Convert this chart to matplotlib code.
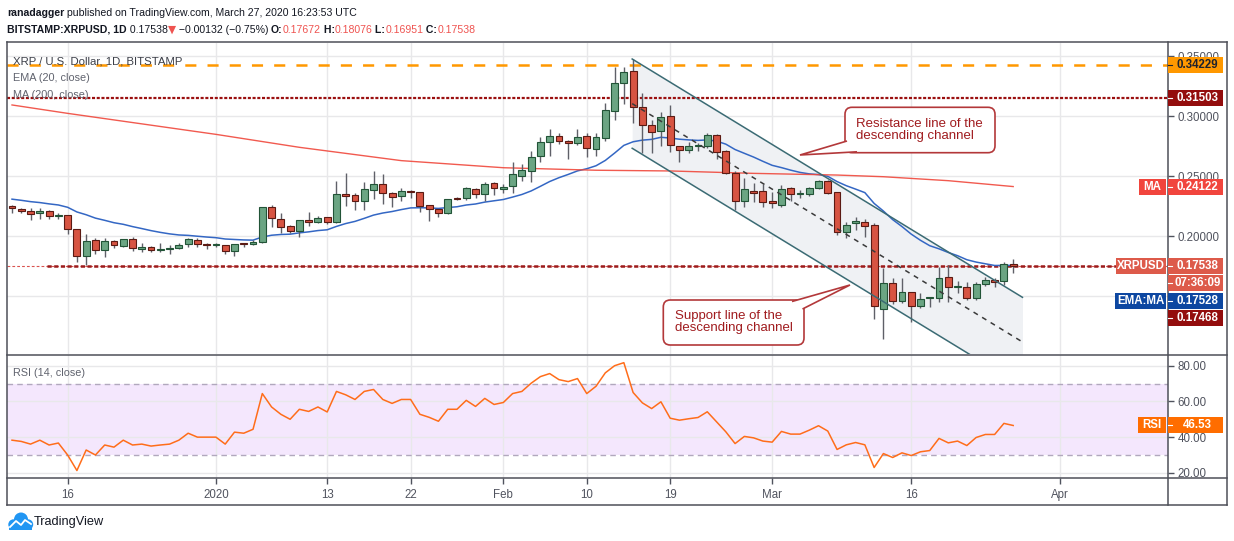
import numpy as np
import pandas as pd
import matplotlib
matplotlib.use("Agg")
import matplotlib.pyplot as plt
from matplotlib.patches import Rectangle, FancyBboxPatch, PathPatch, Circle
from matplotlib.path import Path
from matplotlib.lines import Line2D
from matplotlib.transforms import IdentityTransform

plt.rcParams['font.family'] = ['Liberation Sans', 'DejaVu Sans']
plt.rcParams['lines.scale_dashes'] = False

# ---- data (XRP/USD daily, Bitstamp) ----
dates = pd.date_range('2019-12-10', '2020-03-27', freq='D')

opens = [0.2247, 0.2222, 0.2206, 0.2189, 0.2206, 0.2164, 0.2172, 0.2056, 0.1831, 0.1964,
         0.1881, 0.1956, 0.1914, 0.1972, 0.1894, 0.1906, 0.1881, 0.1889, 0.1897, 0.1931,
         0.1964, 0.1933, 0.1922, 0.1922, 0.1872, 0.1939, 0.1931, 0.1947, 0.2239, 0.2139,
         0.2081, 0.2039, 0.2131, 0.2114, 0.2156, 0.2114, 0.2347, 0.2339, 0.2292, 0.2381,
         0.2431, 0.2356, 0.2331, 0.2375, 0.2364, 0.2256, 0.2222, 0.2189, 0.2317, 0.2314,
         0.2389, 0.2347, 0.2442, 0.2389, 0.2417, 0.2503, 0.2544, 0.2664, 0.2781, 0.2833,
         0.2789, 0.2772, 0.2833, 0.2728, 0.2817, 0.3044, 0.3278, 0.3372, 0.3078, 0.2922,
         0.2872, 0.3000, 0.2747, 0.2714, 0.2747, 0.2747, 0.2839, 0.2706, 0.2522, 0.2294,
         0.2378, 0.2372, 0.2289, 0.2261, 0.2400, 0.2347, 0.2347, 0.2400, 0.2456, 0.2364,
         0.2036, 0.2106, 0.2114, 0.2089, 0.1389, 0.1606, 0.1456, 0.1531, 0.1417, 0.1483,
         0.1483, 0.1656, 0.1572, 0.1578, 0.1483, 0.1597, 0.1633, 0.1622, 0.17672]
highs = [0.2258, 0.2233, 0.2231, 0.2231, 0.2217, 0.2194, 0.2175, 0.2056, 0.2017, 0.1981,
         0.1981, 0.1967, 0.1978, 0.1989, 0.1939, 0.1917, 0.1939, 0.1922, 0.1944, 0.1986,
         0.1981, 0.1944, 0.1944, 0.1928, 0.1933, 0.1944, 0.1967, 0.2244, 0.2258, 0.2194,
         0.2092, 0.2133, 0.2197, 0.2169, 0.2161, 0.2458, 0.2522, 0.2356, 0.2453, 0.2542,
         0.2517, 0.2364, 0.2397, 0.2381, 0.2369, 0.2256, 0.2228, 0.2306, 0.2322, 0.2411,
         0.2397, 0.2453, 0.2447, 0.2433, 0.2614, 0.2600, 0.2711, 0.2828, 0.2890, 0.2856,
         0.2800, 0.2890, 0.2856, 0.2861, 0.3106, 0.3406, 0.3411, 0.3472, 0.3189, 0.2967,
         0.3036, 0.3092, 0.2747, 0.2786, 0.2772, 0.2861, 0.2847, 0.2717, 0.2544, 0.2486,
         0.2439, 0.2433, 0.2369, 0.2425, 0.2406, 0.2383, 0.2411, 0.2464, 0.2467, 0.2369,
         0.2119, 0.2161, 0.2139, 0.2106, 0.1731, 0.1647, 0.1647, 0.1531, 0.1528, 0.1494,
         0.1739, 0.1758, 0.1622, 0.1619, 0.1619, 0.1656, 0.1647, 0.1786, 0.18076]
lows = [0.2189, 0.2194, 0.2133, 0.2142, 0.2144, 0.2144, 0.2017, 0.1786, 0.1758, 0.1847,
        0.1828, 0.1897, 0.1906, 0.1878, 0.1869, 0.1864, 0.1869, 0.1847, 0.1889, 0.1906,
        0.1911, 0.1894, 0.1911, 0.1847, 0.1836, 0.1906, 0.1922, 0.1939, 0.2072, 0.2028,
        0.2028, 0.1994, 0.2083, 0.2106, 0.2097, 0.2106, 0.2250, 0.2217, 0.2217, 0.2308,
        0.2267, 0.2239, 0.2294, 0.2319, 0.2203, 0.2128, 0.2161, 0.2183, 0.2300, 0.2300,
        0.2319, 0.2294, 0.2342, 0.2356, 0.2356, 0.2461, 0.2453, 0.2617, 0.2669, 0.2767,
        0.2639, 0.2758, 0.2661, 0.2667, 0.2789, 0.2967, 0.3097, 0.2939, 0.2689, 0.2689,
        0.2753, 0.2697, 0.2614, 0.2689, 0.2708, 0.2731, 0.2639, 0.2517, 0.2217, 0.2244,
        0.2286, 0.2244, 0.2231, 0.2244, 0.2294, 0.2314, 0.2336, 0.2394, 0.2350, 0.2008,
        0.1981, 0.2050, 0.1994, 0.1306, 0.1139, 0.1433, 0.1439, 0.1281, 0.1397, 0.1411,
        0.1453, 0.1453, 0.1522, 0.1467, 0.1467, 0.1583, 0.1578, 0.1592, 0.16951]
closes = [0.2231, 0.2206, 0.2181, 0.2206, 0.2164, 0.2172, 0.2056, 0.1831, 0.1956, 0.1881,
          0.1956, 0.1922, 0.1972, 0.1897, 0.1906, 0.1881, 0.1892, 0.1900, 0.1922, 0.1972,
          0.1931, 0.1928, 0.1933, 0.1872, 0.1933, 0.1931, 0.1950, 0.2239, 0.2147, 0.2072,
          0.2039, 0.2131, 0.2114, 0.2147, 0.2114, 0.2347, 0.2331, 0.2292, 0.2389, 0.2431,
          0.2356, 0.2322, 0.2375, 0.2367, 0.2247, 0.2222, 0.2189, 0.2306, 0.2306, 0.2397,
          0.2347, 0.2433, 0.2397, 0.2406, 0.2517, 0.2550, 0.2656, 0.2781, 0.2833, 0.2789,
          0.2772, 0.2822, 0.2731, 0.2822, 0.3050, 0.3272, 0.3367, 0.3072, 0.2928, 0.2864,
          0.2989, 0.2756, 0.2714, 0.2747, 0.2756, 0.2839, 0.2700, 0.2522, 0.2294, 0.2389,
          0.2361, 0.2286, 0.2272, 0.2389, 0.2347, 0.2353, 0.2400, 0.2456, 0.2361, 0.2036,
          0.2092, 0.2122, 0.2083, 0.1417, 0.1606, 0.1456, 0.1531, 0.1417, 0.1472, 0.1492,
          0.1647, 0.1572, 0.1583, 0.1483, 0.1597, 0.1633, 0.1619, 0.1764, 0.17538]

rsi = [38.3, 37.6, 36.1, 38.3, 35.6, 36.7, 30.0, 21.3, 32.8, 30.0,
       35.6, 34.4, 38.3, 35.6, 36.1, 35.0, 35.6, 36.1, 38.3, 42.2,
       40.0, 40.0, 40.0, 36.1, 42.8, 42.2, 44.4, 64.4, 56.9, 52.8,
       50.0, 55.6, 54.4, 56.9, 54.1, 65.6, 63.7, 61.1, 65.6, 66.7,
       61.1, 58.9, 61.1, 61.1, 52.8, 51.1, 48.9, 55.6, 55.6, 60.6,
       57.2, 61.7, 58.3, 59.4, 64.4, 65.6, 70.2, 73.9, 75.6, 72.2,
       71.1, 72.8, 64.4, 68.5, 76.0, 80.0, 81.7, 65.0, 59.2, 56.0,
       59.8, 50.6, 49.5, 50.3, 51.0, 54.2, 48.6, 43.0, 36.4, 40.4,
       39.6, 37.8, 37.2, 43.2, 41.7, 41.7, 43.9, 46.4, 43.4, 33.1,
       35.7, 37.0, 35.7, 23.0, 30.8, 28.6, 31.2, 29.7, 31.8, 32.5,
       39.3, 36.8, 37.8, 35.3, 39.8, 41.5, 41.5, 47.7, 46.53]

ema_seed = 0.2315          # EMA(20) value just before the first candle
ma200_day = [0, 6, 22, 31, 42, 53, 63, 71, 80, 89, 94, 101, 108]
ma200_val = [0.3092, 0.3022, 0.2847, 0.2739, 0.2628, 0.2569, 0.2548, 0.2542,
             0.2522, 0.2508, 0.2494, 0.2461, 0.2412]

tick_dates = ['2019-12-16', '2020-01-01', '2020-01-13', '2020-01-22', '2020-02-01',
              '2020-02-10', '2020-02-19', '2020-03-01', '2020-03-16', '2020-04-01']
tick_labels = ['16', '2020', '13', '22', 'Feb', '10', '19', 'Mar', '16', 'Apr']

level_top = 0.34229
level_mid = 0.31503
level_support = 0.17468
support_start_day = 3.74
last_price = 0.17538
ema_last = 0.17528
ma_last = 0.24122
rsi_last = 46.53

chan_day = [66.9, 109.0]
chan_upper = [0.3475, 0.1489]
chan_lower = [0.2731, 0.0745]

# ---- figure layout (pixel based) ----
W, H = 1234, 541
fig = plt.figure(figsize=(W / 100, H / 100), dpi=100)
ID = IdentityTransform()


def rect(x0, y0, x1, y1):
    return [x0 / W, 1 - y1 / H, (x1 - x0) / W, (y1 - y0) / H]


ax = fig.add_axes(rect(7, 42.5, 1168, 354))
rax = fig.add_axes(rect(7, 355, 1168, 477.5))

x = np.arange(len(closes))
o = np.array(opens)
c = np.array(closes)
hi = np.array(highs)
lo = np.array(lows)
tick_pos = [(pd.Timestamp(d) - dates[0]).days for d in tick_dates]

grid_c = '#e8e8ea'
axis_c = '#50535e'
for a in (ax, rax):
    a.set_xlim(-0.54, 124.7)
    a.set_xticks(tick_pos)
    for s in a.spines.values():
        s.set_visible(False)
    a.yaxis.tick_right()
    a.tick_params(axis='y', length=4, width=1, color=axis_c, labelcolor=axis_c,
                  labelsize=8.3, pad=3)
    a.grid(True, color=grid_c, lw=1, zorder=0)
    a.set_axisbelow(True)

ax.tick_params(axis='x', length=0, labelbottom=False)
rax.set_xticklabels(tick_labels)
rax.tick_params(axis='x', length=4, width=1, color=axis_c, labelcolor=axis_c,
                labelsize=8.3, pad=4)

# ---- price pane ----
ax.set_ylim(0.10167, 0.36125)
pt = [0.15, 0.20, 0.25, 0.30, 0.35]
ax.set_yticks(pt)
# the 0.15000 label sits fully under the EMA:MA tag in the original, so it stays blank
ax.set_yticklabels(['' if v < 0.16 else '%.5f' % v for v in pt])

# descending channel
cd = np.array(chan_day)
cu = np.array(chan_upper)
cl = np.array(chan_lower)
ax.fill_between(cd, cl, cu, color='#eff1f4', zorder=1, lw=0)
ax.plot(cd, cu, color='#3b6b74', lw=1.1, zorder=6)
ax.plot(cd, cl, color='#3b6b74', lw=1.1, zorder=6)
ax.plot(cd, (cu + cl) / 2, color='#3a3a3a', lw=1.1, ls=(0, (3.6, 3.6)), zorder=6)

# horizontal levels
ax.axhline(level_top, color='#ff9800', lw=1.8, ls=(0, (8, 8)), zorder=2)
ax.axhline(level_mid, color='#9b1010', lw=1.6, ls=(0, (2.2, 1.2)), zorder=2)
ax.axhline(last_price, color='#d9534f', lw=0.8, ls=(0, (2, 1.5)), zorder=2)
ax.hlines(level_support, support_start_day, 124.7, color='#9b1b1b', lw=1.8,
          ls=(0, (3, 1.8)), zorder=2)

# moving averages
ema = pd.Series([ema_seed] + closes).ewm(span=20, adjust=False).mean().iloc[1:].values
ax.plot(x, ema, color='#3467c4', lw=1.1, zorder=3)
ax.plot(ma200_day, ma200_val, color='#f0483c', lw=1.0, alpha=0.9, zorder=3)

# candles
up = c >= o
body_lo = np.minimum(o, c)
body_h = np.maximum(np.abs(c - o), 0.0009)
ax.vlines(x, lo, hi, color='#5f6068', lw=1.0, zorder=4)
ax.bar(x, body_h, bottom=body_lo, width=0.74,
       color=np.where(up, '#6ba583', '#d75442'),
       edgecolor=np.where(up, '#225437', '#5b1a13'), linewidth=0.8, zorder=5)

# ---- RSI pane ----
rax.set_ylim(17.4, 86.0)
rt = [20, 40, 60, 80]
rax.set_yticks(rt)
rax.set_yticklabels(['%.2f' % v for v in rt])
rax.axhspan(30, 70, color='#f4e7fd', zorder=0.5, lw=0)
rax.axhline(70, color='#b1a8bd', lw=1, ls=(0, (4, 3)), zorder=1)
rax.axhline(30, color='#b1a8bd', lw=1, ls=(0, (4, 3)), zorder=1)
rax.plot(x, rsi, color='#ff6d1a', lw=1.1, zorder=3)

# ---- pane texts ----
ax.text(6 / 1161, 1 - (61.5 - 42.5) / 311.5, 'XRP / U.S. Dollar, 1D, BITSTAMP',
        transform=ax.transAxes, fontsize=8.2, color='#3c3f48', va='center', zorder=9)
ax.text(6 / 1161, 1 - (78 - 42.5) / 311.5, 'EMA (20, close)',
        transform=ax.transAxes, fontsize=7.8, color='#60636e', va='center', zorder=9)
ax.text(6 / 1161, 1 - (95 - 42.5) / 311.5, 'MA (200, close)',
        transform=ax.transAxes, fontsize=7.8, color='#60636e', va='center', zorder=9)
rax.text(6 / 1161, 1 - (373 - 355) / 122.5, 'RSI (14, close)',
         transform=rax.transAxes, fontsize=7.8, color='#60636e', va='center', zorder=9)

# ---- frame lines ----
frame_c = '#4e5059'
for (x0, y0, x1, y1) in [(7, 42, 1227, 42), (7, 505, 1227, 505), (7, 42, 7, 505),
                         (1227, 42, 1227, 505), (1168, 42, 1168, 505),
                         (7, 354.5, 1227, 354.5), (7, 477.5, 1227, 477.5)]:
    fig.add_artist(Line2D([x0, x1], [H - y0, H - y1], color=frame_c, lw=1.1,
                          transform=ID, zorder=20))


# ---- axis value labels ----
def disp_y(a, v):
    return a.transData.transform((0, v))[1]


def value_box(yc, text, fc, tc='white', x0=1168, w=55, h=16):
    fig.add_artist(Rectangle((x0, yc - h / 2), w, h, fc=fc, ec='none',
                             transform=ID, zorder=21))
    fig.add_artist(Line2D([x0, x0 + 4], [yc, yc], color=tc, lw=0.8,
                          transform=ID, zorder=22))
    fig.text(x0 + w / 2 + 2, yc, text, transform=ID, ha='center', va='center',
             color=tc, fontsize=8.3, weight='bold', zorder=22)


def side_box(yc, text, fc, x0, x1=1166, h=16):
    fig.add_artist(Rectangle((x0, yc - h / 2), x1 - x0, h, fc=fc, ec='none',
                             transform=ID, zorder=21))
    fig.text((x0 + x1) / 2, yc, text, transform=ID, ha='center', va='center',
             color='white', fontsize=8.3, weight='bold', zorder=22)


value_box(disp_y(ax, level_top), '%.5f' % level_top, '#ff9800', tc='#1e222d')
value_box(disp_y(ax, level_mid), '%.5f' % level_mid, '#930d0d')
y_ma = disp_y(ax, ma_last)
side_box(y_ma, 'MA', '#f1453d', 1139)
value_box(y_ma, '%.5f' % ma_last, '#f1453d')
y_last = disp_y(ax, last_price)
side_box(y_last, 'XRPUSD', '#dd5a4a', 1116)
value_box(y_last, '%.5f' % last_price, '#dd5a4a')
value_box(y_last - 17.5, '07:36:09', '#dd5a4a')
side_box(y_last - 35, 'EMA:MA', '#0d47a1', 1115)
value_box(y_last - 35, '%.5f' % ema_last, '#0d47a1')
value_box(y_last - 52, '%.5f' % level_support, '#930d0d')
y_rsi = disp_y(rax, rsi_last)
side_box(y_rsi, 'RSI', '#ff6d00', 1138)
value_box(y_rsi, '%.2f' % rsi_last, '#ff6d00')


# ---- callouts ----
def P(px, py):
    return (px, H - py)


call_ec = '#b3383a'
call_tc = '#a01b1e'


def callout(box, wedge, lines, tx, ty):
    x0, y0, x1, y1 = box
    fig.add_artist(FancyBboxPatch(P(x0, y1), x1 - x0, y1 - y0,
                                  boxstyle='round,pad=0,rounding_size=7',
                                  fc='white', ec=call_ec, lw=1.2, transform=ID, zorder=23))
    path = Path([P(*wedge[0]), P(*wedge[1]), P(*wedge[2])],
                [Path.MOVETO, Path.LINETO, Path.LINETO])
    fig.add_artist(PathPatch(path, fc='white', ec=call_ec, lw=1.2,
                             transform=ID, zorder=24))
    for i, s in enumerate(lines):
        fig.text(tx, H - (ty + i * 11.5), s, transform=ID, va='center', ha='left',
                 color=call_tc, fontsize=9.5, zorder=25)


callout((845, 107.3, 995, 152.7), [(847, 141), (800, 155), (857, 151.8)],
        ['Resistance line of the', 'descending channel'], 856, 124)
callout((663.3, 300, 804, 345), [(792, 301.5), (850, 285), (802.5, 309)],
        ['Support line of the', 'descending channel'], 675, 316)

# ---- header ----
renderer = fig.canvas.get_renderer()
dark = '#131722'
red = '#ef5350'


def text_run(px, py, pieces, size):
    for s, kw in pieces:
        t = fig.text(px, H - py, s, transform=ID, va='center', ha='left',
                     fontsize=size, **kw)
        px += t.get_window_extent(renderer).width


text_run(7, 13, [('ranadagger', dict(weight='bold', color=dark)),
                 (' published on TradingView.com, March 27, 2020 16:23:53 UTC',
                  dict(color=dark))], 7.6)
text_run(7, 30, [('BITSTAMP:XRPUSD, 1D', dict(weight='bold', color=dark)),
                 (' 0.17538', dict(color=dark)),
                 ('\u25bc', dict(color=red, family=['DejaVu Sans'])),
                 (' \u22120.00132 (\u22120.75%) ', dict(color=dark)),
                 ('O:', dict(weight='bold', color=dark)), ('0.17672', dict(color=red)),
                 (' H:', dict(weight='bold', color=dark)), ('0.18076', dict(color=red)),
                 (' L:', dict(weight='bold', color=dark)), ('0.16951', dict(color=red)),
                 (' C:', dict(weight='bold', color=dark)), ('0.17538', dict(color=red))],
         7.6)

# ---- TradingView logo ----
blue = '#2196f3'
for (cx, cy, r) in [(13.5, 524.5, 5.2), (21, 519.5, 7), (28, 524.5, 5.2)]:
    fig.add_artist(Circle(P(cx, cy), r, fc=blue, ec='none', transform=ID, zorder=30))
fig.add_artist(Rectangle(P(9, 530), 23, 6, fc=blue, ec='none', transform=ID, zorder=30))
fig.add_artist(Line2D([10, 16, 21, 25, 31], [H - 527, H - 521, H - 525, H - 520, H - 524],
                      color='white', lw=1.3, transform=ID, zorder=31))
fig.text(34, H - 522.5, 'TradingView', transform=ID, va='center', ha='left',
         fontsize=9.2, color=dark)

fig.savefig('out.png', dpi=100)
